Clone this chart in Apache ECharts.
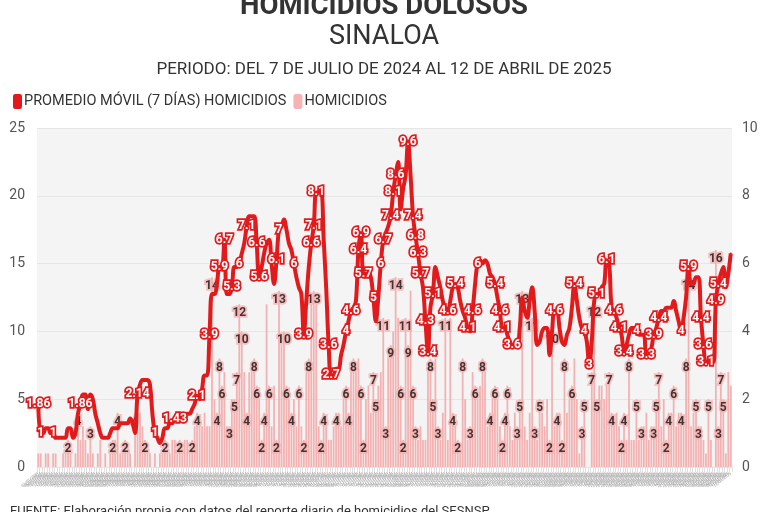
<!DOCTYPE html>
<html><head><meta charset="utf-8">
<script src="https://cdn.jsdelivr.net/npm/echarts/dist/echarts.min.js"></script>
<style>html,body{margin:0;padding:0;background:#fff}#c{width:768px;height:512px}</style>
</head><body><div id="c"></div>
<script>
// Daily categories: 7 Jul 2024 .. 12 Apr 2025 (280 days)
const categories = [];
for (let i = 0; i < 280; i++) {
  const d = new Date(2024, 6, 7 + i);
  categories.push(String(d.getDate()).padStart(2,'0') + '/' + String(d.getMonth()+1).padStart(2,'0') + '/' + d.getFullYear());
}

// HOMICIDIOS (daily counts, left axis)
const homicidios = [
  1,1,0,1,1,0,1,1,0,0,
  1,1,2,1,0,1,4,2,3,2,
  1,3,1,0,1,2,0,1,0,1,
  2,2,4,1,1,2,1,1,0,4,
  3,4,3,2,1,1,0,1,0,1,
  1,2,1,1,2,2,1,2,1,2,
  2,1,2,3,4,3,3,4,3,3,
  14,5,4,8,6,7,3,3,5,5,
  7,12,10,7,4,7,7,8,6,5,
  2,4,12,6,3,6,2,13,9,10,
  6,5,4,5,3,6,3,2,7,8,
  12,13,12,3,2,4,3,2,2,3,
  4,4,3,5,6,4,7,8,7,8,
  6,2,5,6,4,7,5,6,7,11,
  3,8,9,10,14,11,6,2,11,9,
  13,6,3,2,3,2,2,7,8,5,
  8,3,2,4,11,2,11,4,3,2,
  1,8,5,2,3,7,6,5,6,8,
  7,3,4,5,6,5,3,2,4,6,
  3,2,4,3,5,13,3,2,4,11,
  3,2,5,4,3,5,2,10,3,4,
  4,2,8,4,5,6,8,5,1,3,
  5,0,0,7,12,5,6,6,5,6,
  7,4,3,4,3,2,4,2,8,2,
  2,5,2,3,3,4,2,3,3,5,
  7,3,5,2,4,4,6,3,4,4,
  3,8,14,3,4,5,3,3,2,1,
  5,2,0,16,3,7,5,1,7,6
];

// PROMEDIO MÓVIL (7 DÍAS) (right axis)
const promedio = [
  1.86,1,1,1.14,1.14,1,1,0.86,0.86,0.86,
  0.86,0.86,1.14,1.14,0.86,1,1.57,1.86,2.14,2.14,
  1.71,2.14,2,1.57,1.29,1,0.86,0.86,0.86,1,
  1.14,1.14,1.14,1.29,1.29,1.29,1.29,1.43,1.29,1,
  2.14,2.43,2.57,2.57,2.57,2.43,1.57,1,0.86,0.71,
  0.86,1.14,1.14,1.29,1.29,1.43,1.43,1.43,1.57,1.43,
  1.57,1.57,1.71,1.86,2.1,2.0,2.3,2.7,2.7,3.9,
  5.1,5.1,5.4,5.9,5.9,6.7,5.1,5.1,5.3,5.9,
  5.9,6.0,6.3,6.6,7.1,7.4,7.4,7.4,6.6,5.6,
  5.9,6.3,6.6,6.7,6.0,5.4,6.1,7,7.1,7.3,
  7,6.6,6.4,6.0,5.6,5.3,5.1,3.9,4.9,5.9,
  6.6,7.1,8.1,8.1,8.1,6.7,5.3,3.6,2.7,2.7,
  2.9,2.9,3.3,3.6,4,4.3,4.6,4.7,4.9,6.4,
  6.9,5.7,5.7,5.7,5.6,5.0,4.3,5,6.0,6.7,
  6.9,7.1,7.4,8.1,8.6,9,7.6,8.2,8.6,9.6,
  8.6,7.4,6.8,6.3,5.7,5.3,4.3,3.4,4.7,5.1,
  5.9,5.6,5.3,4.9,4.7,4.6,4.9,5.3,5.4,5.3,
  4.9,4.6,4.4,4.1,4,4.6,5.4,6,6.1,6.0,
  6.1,6,5.7,5.6,5.4,5.0,4.6,4.1,4.1,3.9,
  3.7,3.6,3.6,3.6,4.1,5,4.6,4.4,4.9,5.3,
  4.6,3.6,3.7,4.0,4.1,4.1,3.3,4.0,4.6,4.6,
  4.1,3.7,3.6,3.9,4.1,4.7,5.4,4.9,4.4,4.1,
  4,3.7,3,3.7,4.9,5.1,5.1,5.3,5.4,6.1,
  6.0,4.7,4.6,4.4,4.1,3.9,3.4,3.6,3.9,4.1,
  4.1,4.0,3.9,3.9,3.9,3.3,3.3,3.5,3.9,4.1,
  4.4,4.6,4.6,4.7,4.7,4.7,4.9,4.6,4.3,4,
  4.4,5.0,5.9,5.4,5.4,5.6,5.6,4.4,3.6,3.1,
  3.1,3.1,3.1,4.9,5.4,5.7,5.9,5.3,5.7,6.3
];

const leftTicks = [0, 5, 10, 15, 20, 25];
const rightTicks = [0, 2, 4, 6, 8, 10];

const FONT = "Roboto, 'Noto Sans', sans-serif";
const RED = '#e31a1c';
const PINK = '#f4a0a0';

const chart = echarts.init(document.getElementById('c'), null, {renderer: 'canvas'});
chart.setOption({
  backgroundColor: '#ffffff',
  animation: false,
  textStyle: {fontFamily: FONT},
  title: [
    {text: 'HOMICIDIOS DOLOSOS', left: 'center', top: -12,
     textStyle: {fontSize: 27.5, fontWeight: 'bold', color: '#333', fontFamily: FONT}},
    {text: 'SINALOA', left: 'center', top: 19,
     textStyle: {fontSize: 27, fontWeight: 'normal', color: '#333', fontFamily: FONT}},
    {text: 'PERIODO: DEL 7 DE JULIO DE 2024 AL 12 DE ABRIL DE 2025', left: 'center', top: 56,
     textStyle: {fontSize: 17, fontWeight: 'normal', color: '#333', fontFamily: FONT}}
  ],
  legend: {
    left: 8, top: 89, icon: 'roundRect', itemWidth: 9, itemHeight: 15, itemGap: 7,
    textStyle: {fontSize: 14.5, color: '#333', fontFamily: FONT, padding: [0,0,0,-3]},
    data: ['PROMEDIO MÓVIL (7 DÍAS) HOMICIDIOS', 'HOMICIDIOS']
  },
  grid: {left: 37, right: 36, top: 128, bottom: 45, show: true, backgroundColor: '#f4f4f4', borderWidth: 0},
  xAxis: {
    type: 'category', data: categories, boundaryGap: true,
    axisLine: {show: true, lineStyle: {color: '#e4e4e4'}},
    axisTick: {show: true, interval: 0, length: 5, lineStyle: {color: '#e0e0e0'}},
    axisLabel: {interval: 0, rotate: 40, fontSize: 4, color: '#999', margin: 6}
  },
  yAxis: [
    {type: 'value', min: leftTicks[0], max: leftTicks[leftTicks.length-1], interval: 5,
     axisLabel: {fontSize: 14, color: '#555', margin: 12, fontFamily: FONT},
     axisLine: {show: false}, axisTick: {show: false},
     splitLine: {lineStyle: {color: '#e6e6e6', width: 1}}},
    {type: 'value', min: rightTicks[0], max: rightTicks[rightTicks.length-1], interval: 2,
     axisLabel: {fontSize: 14, color: '#555', margin: 10, fontFamily: FONT},
     axisLine: {show: false}, axisTick: {show: false}, splitLine: {show: false}}
  ],
  series: [
    {
      name: 'HOMICIDIOS', type: 'bar', yAxisIndex: 0, data: homicidios,
      barWidth: '72%', itemStyle: {color: PINK, opacity: 0.8}, z: 1,
      label: {show: true, position: 'insideTop', distance: 3, color: '#111', fontWeight: 'bold',
        fontSize: 12, fontFamily: 'Roboto, sans-serif', textBorderColor: '#f6b0b0', textBorderWidth: 3.5,
        formatter: p => (p.value >= 2 ? String(p.value) : '')},
      labelLayout: {hideOverlap: true}
    },
    {
      name: 'PROMEDIO MÓVIL (7 DÍAS) HOMICIDIOS', type: 'line', yAxisIndex: 1, data: promedio,
      smooth: 0.4, showSymbol: true, showAllSymbol: true, symbol: 'circle', symbolSize: 2,
      itemStyle: {color: RED}, lineStyle: {color: RED, width: 4}, z: 5,
      label: {show: true, position: 'inside', color: '#fff', fontWeight: 'bold', fontSize: 12,
        fontFamily: 'Roboto, sans-serif', textBorderColor: RED, textBorderWidth: 3.5,
        formatter: p => String(p.value)},
      labelLayout: {hideOverlap: true}
    }
  ],
  graphic: [
    {type: 'text', left: 10, top: 505,
     style: {text: 'FUENTE: Elaboración propia con datos del reporte diario de homicidios del SESNSP',
       fontSize: 13, fill: '#333', fontFamily: FONT}}
  ]
});
</script>
</body></html>
